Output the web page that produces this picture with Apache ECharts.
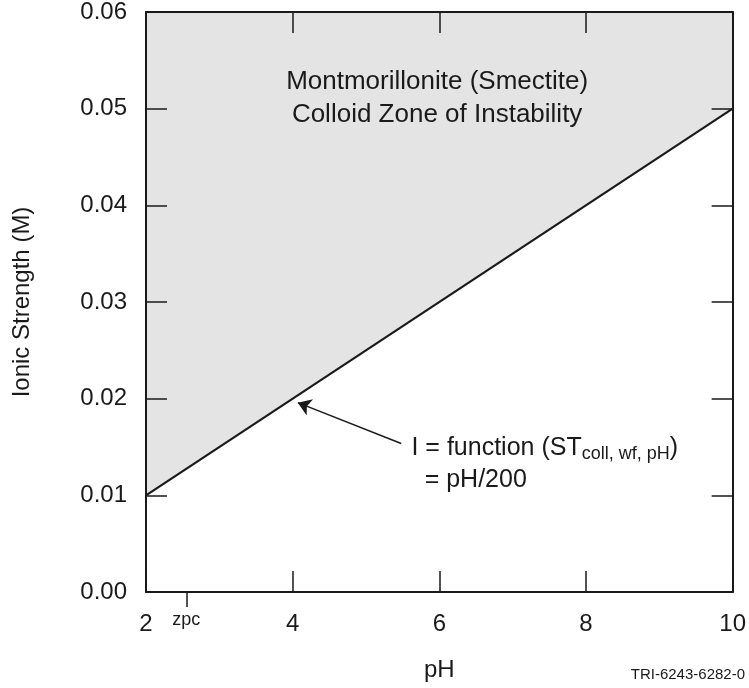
<!DOCTYPE html>
<html>
<head>
<meta charset="utf-8">
<script src="https://cdn.jsdelivr.net/npm/echarts@6/dist/echarts.min.js"></script>
<style>
  html, body { margin: 0; padding: 0; background: #fff; }
  #chart { width: 749px; height: 688px; }
</style>
</head>
<body>
<div id="chart"></div>
<script>
// Stability boundary: I = pH / 200
const phValues = [2, 10];
const ionicValues = [0.01, 0.05];
const xTicks = [2, 4, 6, 8, 10];
const yTicks = [0, 0.01, 0.02, 0.03, 0.04, 0.05, 0.06];
const zpcTick = [2.55];
// arrow from the formula label to the boundary line (pH, I)
const arrowFrom = [5.48, 0.01536];
const arrowTo = [4.07, 0.01959];

const FONT = '"Liberation Sans", Arial, Helvetica, sans-serif';
const INK = '#1a1a1a';

const boundary = phValues.map((p, i) => [p, ionicValues[i]]);

const chart = echarts.init(document.getElementById('chart'), null, { renderer: 'canvas' });

const frameLine = { show: true, onZero: false, lineStyle: { color: INK, width: 2 } };
const innerTick = { show: true, inside: true, length: 21, lineStyle: { color: INK, width: 1.5 } };

const option = {
  animation: false,
  backgroundColor: '#ffffff',
  grid: { left: 146, right: 15, top: 11, bottom: 96, containLabel: false },
  xAxis: [
    {
      type: 'value', position: 'bottom', z: 10,
      min: xTicks[0], max: xTicks[xTicks.length - 1], interval: 2,
      splitLine: { show: false }, axisLine: frameLine, axisTick: innerTick,
      axisLabel: { fontFamily: FONT, fontSize: 24, color: INK, margin: 20 },
      name: 'pH', nameLocation: 'middle', nameGap: 66,
      nameTextStyle: { fontFamily: FONT, fontSize: 24, color: INK }
    },
    {
      type: 'value', position: 'top', z: 10,
      min: xTicks[0], max: xTicks[xTicks.length - 1], interval: 2,
      splitLine: { show: false }, axisLine: frameLine, axisTick: innerTick,
      axisLabel: { show: false }
    },
    {
      // point of zero charge marker below the axis
      type: 'value', position: 'bottom', z: 10,
      min: xTicks[0], max: xTicks[xTicks.length - 1],
      splitLine: { show: false },
      axisLine: { show: false, onZero: false },
      axisTick: { show: true, inside: false, length: 15, customValues: zpcTick, lineStyle: { color: INK, width: 1.5 } },
      axisLabel: {
        show: true, customValues: zpcTick, formatter: () => 'zpc',
        fontFamily: FONT, fontSize: 18, color: INK, margin: 19
      }
    }
  ],
  yAxis: [
    {
      type: 'value', position: 'left', z: 10,
      min: yTicks[0], max: yTicks[yTicks.length - 1], interval: 0.01,
      splitLine: { show: false }, axisLine: frameLine, axisTick: innerTick,
      axisLabel: { fontFamily: FONT, fontSize: 24, color: INK, margin: 19, formatter: v => v.toFixed(2) },
      name: 'Ionic Strength (M)', nameLocation: 'middle', nameGap: 112, nameRotate: 90,
      nameTextStyle: { fontFamily: FONT, fontSize: 24, color: INK }
    },
    {
      type: 'value', position: 'right', z: 10,
      min: yTicks[0], max: yTicks[yTicks.length - 1], interval: 0.01,
      splitLine: { show: false }, axisLine: frameLine, axisTick: innerTick,
      axisLabel: { show: false }
    }
  ],
  series: [
    {
      // boundary line I = pH/200, instability zone shaded up to the axis max
      type: 'line', data: boundary, symbol: 'none',
      lineStyle: { color: INK, width: 2.2 },
      areaStyle: { color: '#e4e4e4', opacity: 1, origin: 'end' }, z: 3
    },
    {
      type: 'lines', coordinateSystem: 'cartesian2d',
      symbol: ['none', 'arrow'], symbolSize: [0, 13],
      lineStyle: { color: INK, width: 1.5, opacity: 1 },
      data: [{ coords: [arrowFrom, arrowTo] }], z: 4
    }
  ]
};

chart.setOption(option);

function px(pt) { return chart.convertToPixel({ xAxisIndex: 0, yAxisIndex: 0 }, pt); }

const titlePos = px([5.97, 0.0511]);
const formulaPos = px([5.62, 0.01485]);
const formula2Pos = px([5.80, 0.01155]);

chart.setOption({
  graphic: [
    {
      type: 'text', x: titlePos[0], y: titlePos[1], z: 10,
      style: {
        text: 'Montmorillonite (Smectite)\nColloid Zone of Instability',
        fontFamily: FONT, fontSize: 26, lineHeight: 33, fill: INK,
        align: 'center', verticalAlign: 'middle'
      }
    },
    {
      type: 'text', x: formulaPos[0], y: formulaPos[1], z: 10,
      style: {
        text: '{m|I = function (ST}{s|coll, wf, pH}{m|)}',
        fontFamily: FONT, fill: INK, align: 'left', verticalAlign: 'middle',
        rich: {
          m: { fontFamily: FONT, fontSize: 25, fill: INK, lineHeight: 30, verticalAlign: 'middle' },
          s: { fontFamily: FONT, fontSize: 18, fill: INK, lineHeight: 30, verticalAlign: 'bottom', padding: [8, 0, 0, 0] }
        }
      }
    },
    {
      type: 'text', x: formula2Pos[0], y: formula2Pos[1], z: 10,
      style: {
        text: '= pH/200', fontFamily: FONT, fontSize: 25, fill: INK,
        align: 'left', verticalAlign: 'middle'
      }
    },
    {
      type: 'text', right: 4, top: 667, z: 10,
      style: { text: 'TRI-6243-6282-0', fontFamily: FONT, fontSize: 15, fill: INK }
    }
  ]
});
</script>
</body>
</html>
